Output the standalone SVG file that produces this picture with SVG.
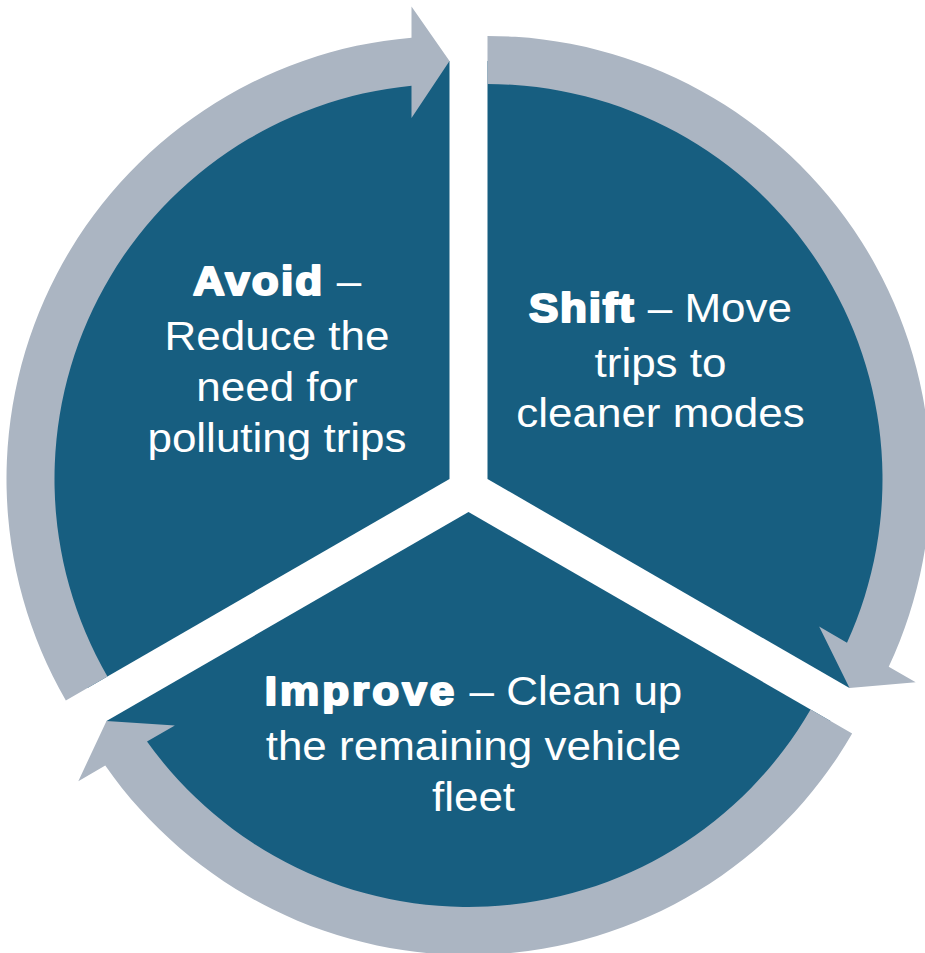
<svg xmlns="http://www.w3.org/2000/svg" width="925" height="953" viewBox="0 0 925 953">
<style>
.seg{fill:#175E80}
.arr{fill:#ABB5C2}
.t{font-family:"Liberation Sans",Arial,sans-serif;font-size:40px;fill:#ffffff;text-anchor:middle}
.b{font-weight:bold;stroke:#ffffff;stroke-width:2.2px;stroke-linejoin:round}
</style>
<defs>
<path id="arrow" d="M-383.65,221.5 A443,443 0 0 1 -38,-441.37 L-38,-472.5 L0,-418 L-38,-361 L-38,-393.17 A395,395 0 0 0 -342.08,197.5 Z"/>
</defs>
<rect width="925" height="953" fill="#ffffff"/>
<g id="avoid">
<path class="seg" d="M449.5,479 L449.5,61 A418,418 0 0 0 87.51,688 Z"/>
<g transform="translate(277,0) scale(1.1,1)">
<text class="t" x="0" y="295"><tspan class="b" letter-spacing="2">Avoid</tspan> –</text>
<text class="t" x="0" y="350.5">Reduce the</text>
<text class="t" x="0" y="401.5">need for</text>
<text class="t" x="0" y="452">polluting trips</text>
</g>
</g>
<g id="shift">
<path class="seg" d="M487.5,479 L487.5,61 A418,418 0 0 1 849.49,688 Z"/>
<g transform="translate(660.5,0) scale(1.1,1)">
<text class="t" x="0" y="322.5"><tspan class="b" letter-spacing="1.6">Shift</tspan> – Move</text>
<text class="t" x="0" y="377">trips to</text>
<text class="t" x="0" y="427.5">cleaner modes</text>
</g>
</g>
<g id="improve">
<path class="seg" d="M468.5,512 L830.49,721 A418,418 0 0 1 106.51,721 Z"/>
<g transform="translate(473.5,0) scale(1.1,1)">
<text class="t" x="0" y="705"><tspan class="b" letter-spacing="2.8">Improve</tspan> – Clean up</text>
<text class="t" x="0" y="760">the remaining vehicle</text>
<text class="t" x="0" y="811">fleet</text>
</g>
</g>
<g id="connectors">
<use class="arr" href="#arrow" transform="translate(449.5,479)"/>
<use class="arr" href="#arrow" transform="translate(487.5,479) rotate(120)"/>
<use class="arr" href="#arrow" transform="translate(468.5,512) rotate(240)"/>
</g>
</svg>
